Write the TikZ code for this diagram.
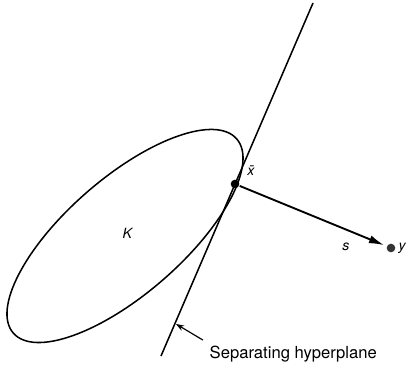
\documentclass[tikz,border=0pt]{standalone}
\usepackage{fontspec}
\setmainfont{TeX Gyre Heros}
\usetikzlibrary{arrows.meta}

\begin{document}
\begin{tikzpicture}[x=0.03cm,y=0.03cm,line width=1.3pt]
\tikzset{dot/.style={circle,fill,inner sep=2.6pt}}
\useasboundingbox (0,0) rectangle (408,368);
% convex set K
\coordinate (Kc) at (125,132);
\draw[rotate around={41:(Kc)}] (Kc) ellipse [x radius=148,y radius=58];
\node (K) at (128,135) {\large\textit{K}};
% hyperplane
\coordinate (hbot) at (161,12);
\coordinate (htop) at (313,365);
\draw (hbot) -- (htop);
% points and vector s
\node[dot] (xbar) at (235,184) {};
\node[dot,fill=black!80] (y) at (391,120) {};
\node (xbarlab) at (251,197) {\large\textit{\=x}};
\node[anchor=west,inner sep=0.5pt] (ylab) at ([xshift=1pt]y.east) {\large\textit{y}};
\draw[line width=1.6pt,-{Latex[length=13pt,width=7pt]},shorten >=2pt] (xbar) -- (y);
\node (slab) at (346,121) {\large\textit{s}};
% label
\coordinate (tip) at (176,44);
\node[anchor=west] (sep) at (205,14) {\fontsize{14.2}{17}\selectfont Separating hyperplane};
\draw[line width=1pt,-{Stealth[length=7pt,width=5pt]},shorten <=2pt] (sep.north west) -- (tip);
\end{tikzpicture}
\end{document}
